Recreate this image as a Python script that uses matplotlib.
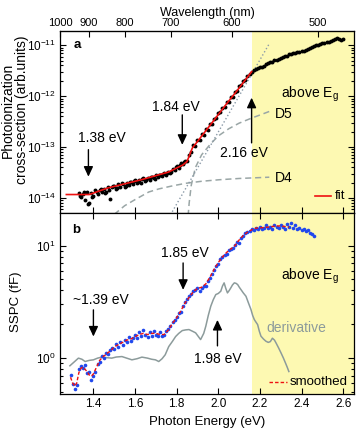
import numpy as np
import matplotlib
matplotlib.use("Agg")
import matplotlib.pyplot as plt
from matplotlib.ticker import LogLocator, NullFormatter, FixedLocator

plt.rcParams['font.family'] = ['Liberation Sans', 'DejaVu Sans']
plt.rcParams['mathtext.fontset'] = 'custom'
plt.rcParams['mathtext.rm'] = 'Liberation Sans'
plt.rcParams['mathtext.it'] = 'Liberation Sans:italic'
plt.rcParams['mathtext.bf'] = 'Liberation Sans:bold'

# ---------------- Panel a data (log10 of cross-section) ----------------
a_E_low = [1.33, 1.34, 1.35, 1.36, 1.37, 1.38, 1.39, 1.40, 1.41, 1.42, 1.43, 1.44, 1.45, 1.46,
           1.47, 1.48, 1.49, 1.50, 1.51, 1.52, 1.53, 1.54, 1.55, 1.56, 1.57, 1.58, 1.59, 1.60,
           1.61, 1.62, 1.63, 1.64, 1.65, 1.66, 1.67, 1.68, 1.69, 1.70, 1.71, 1.72, 1.73, 1.74,
           1.75, 1.76, 1.77, 1.78, 1.79, 1.80, 1.81, 1.82, 1.83, 1.84, 1.85]
a_L_low = [-13.90, -13.98, -13.91, -14.03, -13.89, -14.09, -13.90, -13.95, -13.85, -13.92, -13.84,
           -13.89, -13.82, -13.88, -13.78, -14.02, -13.79, -13.76, -13.82, -13.73, -13.79, -13.73,
           -13.78, -13.70, -13.75, -13.68, -13.72, -13.65, -13.71, -13.65, -13.70, -13.60, -13.66,
           -13.60, -13.64, -13.58, -13.61, -13.55, -13.59, -13.54, -13.57, -13.51, -13.54, -13.49,
           -13.51, -13.43, -13.45, -13.38, -13.40, -13.32, -13.34, -13.28, -13.28]
a_E_low2 = [1.335, 1.355, 1.375, 1.395, 1.415, 1.435, 1.455, 1.475, 1.495, 1.515, 1.535, 1.555,
            1.575, 1.595, 1.615, 1.635, 1.655, 1.675, 1.695, 1.715, 1.735, 1.755, 1.775, 1.795,
            1.815, 1.835]
a_L_low2 = [-13.95, -13.88, -14.12, -13.97, -13.88, -13.83, -13.90, -13.84, -13.76, -13.80, -13.71,
            -13.76, -13.69, -13.66, -13.69, -13.62, -13.64, -13.59, -13.62, -13.55, -13.53, -13.50,
            -13.48, -13.39, -13.36, -13.30]
a_E_mid = [1.86, 1.87, 1.88, 1.89, 1.90, 1.91, 1.92, 1.93, 1.94, 1.95, 1.96, 1.97, 1.98, 1.99,
           2.00, 2.01, 2.02, 2.03, 2.04, 2.05, 2.06, 2.07, 2.08, 2.09, 2.10, 2.11, 2.12, 2.13,
           2.14, 2.15]
a_L_mid = [-13.15, -13.10, -12.95, -12.97, -12.86, -12.86, -12.74, -12.76, -12.64, -12.66, -12.55,
           -12.54, -12.44, -12.43, -12.33, -12.32, -12.23, -12.22, -12.12, -12.11, -12.02, -12.01,
           -11.91, -11.90, -11.81, -11.79, -11.70, -11.69, -11.60, -11.57]
a_E_high = [2.16, 2.17, 2.18, 2.19, 2.20, 2.21, 2.22, 2.23, 2.24, 2.25, 2.26, 2.27, 2.28, 2.29,
            2.30, 2.31, 2.32, 2.33, 2.34, 2.35, 2.36, 2.37, 2.38, 2.39, 2.40, 2.41, 2.42, 2.43,
            2.44, 2.45, 2.46, 2.47, 2.48, 2.49, 2.50, 2.51, 2.52, 2.53, 2.54, 2.55, 2.56, 2.57,
            2.58, 2.59, 2.60]
a_L_high = [-11.53, -11.49, -11.46, -11.44, -11.43, -11.42, -11.40, -11.37, -11.35, -11.33, -11.32,
            -11.30, -11.29, -11.27, -11.25, -11.23, -11.22, -11.21, -11.18, -11.17, -11.16, -11.15,
            -11.13, -11.13, -11.12, -11.11, -11.10, -11.08, -11.06, -11.04, -11.02, -11.00, -10.99,
            -10.97, -10.96, -10.95, -10.94, -10.93, -10.91, -10.90, -10.88, -10.85, -10.87, -10.89,
            -10.87]

fit_E = [1.27, 1.38, 1.47, 1.63, 1.76, 1.83, 1.85, 1.875, 1.955, 2.036, 2.10, 2.16]
fit_L = [-13.93, -13.93, -13.80, -13.64, -13.49, -13.35, -13.28, -13.02, -12.60, -12.17, -11.84, -11.52]

dot_E = [1.77, 2.245]
dot_L = [-14.33, -10.97]

d5_E = [1.855, 1.86, 1.87, 1.89, 1.92, 1.96, 2.00, 2.05, 2.10, 2.16, 2.20, 2.245]
d5_L = [-14.35, -14.10, -13.75, -13.40, -13.15, -12.95, -12.78, -12.64, -12.53, -12.43, -12.37, -12.30]

d4_E = [1.50, 1.55, 1.60, 1.666, 1.714, 1.78, 1.843, 1.92, 2.004, 2.10, 2.245]
d4_L = [-14.32, -14.15, -14.03, -13.88, -13.82, -13.76, -13.71, -13.67, -13.64, -13.615, -13.59]

# ---------------- Panel b data (log10 SSPC) ----------------
b_E = [1.29, 1.30, 1.31, 1.32, 1.33, 1.34, 1.35, 1.36, 1.37, 1.38, 1.39, 1.40, 1.41, 1.42, 1.43,
       1.44, 1.45, 1.46, 1.47, 1.48, 1.49, 1.50, 1.51, 1.52, 1.53, 1.54, 1.55, 1.56, 1.57, 1.58,
       1.59, 1.60, 1.61, 1.62, 1.63, 1.64, 1.65, 1.66, 1.67, 1.68, 1.69, 1.70, 1.71, 1.72, 1.73,
       1.74, 1.75, 1.76, 1.77, 1.78, 1.79, 1.80, 1.81, 1.82, 1.83, 1.84, 1.85, 1.86, 1.87, 1.88,
       1.89, 1.90, 1.91, 1.92, 1.93, 1.94, 1.95, 1.96, 1.97, 1.98, 1.99, 2.00, 2.01, 2.02, 2.03,
       2.04, 2.05, 2.06, 2.07, 2.08, 2.09, 2.10, 2.11, 2.12, 2.13, 2.14, 2.15, 2.16, 2.17, 2.18,
       2.19, 2.20, 2.21, 2.22, 2.23, 2.24, 2.25, 2.26, 2.27, 2.28, 2.29, 2.30, 2.31, 2.32, 2.33,
       2.34, 2.35, 2.36, 2.37, 2.38, 2.39, 2.40, 2.41, 2.42, 2.43, 2.44, 2.45, 2.46]
b_L = [-0.15, -0.23, -0.27, -0.24, -0.10, -0.07, -0.09, -0.06, -0.13, -0.12, -0.19, -0.16, -0.12,
       -0.05, -0.03, 0.02, 0.00, 0.05, 0.04, 0.07, 0.09, 0.08, 0.13, 0.10, 0.14, 0.12, 0.16, 0.14,
       0.19, 0.15, 0.18, 0.21, 0.18, 0.23, 0.20, 0.25, 0.21, 0.19, 0.23, 0.20, 0.24, 0.21, 0.20,
       0.23, 0.20, 0.21, 0.24, 0.26, 0.29, 0.32, 0.34, 0.37, 0.40, 0.41, 0.46, 0.50, 0.53, 0.55,
       0.57, 0.60, 0.61, 0.62, 0.60, 0.62, 0.64, 0.64, 0.69, 0.71, 0.75, 0.78, 0.82, 0.84, 0.88,
       0.90, 0.92, 0.93, 0.96, 0.97, 0.98, 1.01, 1.03, 1.02, 1.07, 1.09, 1.11, 1.12, 1.13, 1.15,
       1.14, 1.16, 1.15, 1.17, 1.15, 1.16, 1.18, 1.16, 1.17, 1.15, 1.18, 1.17, 1.16, 1.18, 1.17,
       1.15, 1.19, 1.17, 1.20, 1.16, 1.18, 1.15, 1.16, 1.14, 1.15, 1.13, 1.14, 1.11, 1.10, 1.09]

sm_E = [1.29, 1.30, 1.31, 1.32, 1.33, 1.34, 1.35, 1.36, 1.37, 1.38, 1.39, 1.40, 1.41, 1.42, 1.43,
        1.44, 1.45, 1.46, 1.47, 1.48, 1.49, 1.50, 1.52, 1.54, 1.56, 1.58, 1.60, 1.62, 1.64, 1.66,
        1.68, 1.70, 1.72, 1.74, 1.76, 1.78, 1.80, 1.82, 1.84, 1.86, 1.88, 1.90, 1.92, 1.94, 1.96,
        1.98, 2.00, 2.02, 2.04, 2.06, 2.08, 2.10, 2.12, 2.14, 2.16, 2.18, 2.20, 2.22, 2.24, 2.26,
        2.28, 2.30, 2.32, 2.34]
sm_L = [-0.17, -0.22, -0.25, -0.22, -0.13, -0.09, -0.08, -0.10, -0.12, -0.15, -0.16, -0.14, -0.10,
        -0.06, -0.02, 0.00, 0.02, 0.03, 0.05, 0.06, 0.08, 0.10, 0.12, 0.14, 0.16, 0.17, 0.19, 0.21,
        0.22, 0.21, 0.22, 0.22, 0.21, 0.21, 0.25, 0.31, 0.36, 0.42, 0.49, 0.54, 0.59, 0.62, 0.63,
        0.66, 0.72, 0.79, 0.85, 0.90, 0.94, 0.97, 1.00, 1.05, 1.09, 1.12, 1.14, 1.155, 1.16, 1.16,
        1.165, 1.17, 1.175, 1.175, 1.17, 1.165]

der_E = [1.287, 1.31, 1.328, 1.345, 1.36, 1.38, 1.40, 1.42, 1.44, 1.46, 1.488, 1.51, 1.537, 1.56,
         1.585, 1.61, 1.633, 1.66, 1.68, 1.698, 1.714, 1.73, 1.745, 1.762, 1.78, 1.795, 1.81, 1.827,
         1.843, 1.859, 1.875, 1.891, 1.915, 1.93, 1.94, 1.952, 1.964, 1.976, 1.988, 2.0, 2.012,
         2.02, 2.028, 2.036, 2.044, 2.052, 2.06, 2.068, 2.077, 2.085, 2.093, 2.101, 2.109, 2.12,
         2.133, 2.145, 2.157, 2.165, 2.173, 2.181, 2.189, 2.197, 2.205, 2.217, 2.229, 2.24, 2.25,
         2.26, 2.27, 2.278, 2.29, 2.302, 2.313, 2.323, 2.331, 2.339]
der_L = [-0.068, -0.03, 0.0, -0.01, -0.03, -0.02, -0.015, 0.0, 0.009, 0.005, 0.0, 0.01, 0.014,
         0.0, -0.015, -0.005, 0.009, 0.0, -0.01, -0.015, -0.03, -0.005, 0.03, 0.103, 0.15, 0.192,
         0.22, 0.245, 0.251, 0.254, 0.24, 0.225, 0.165, 0.22, 0.284, 0.38, 0.462, 0.52, 0.565,
         0.575, 0.595, 0.64, 0.669, 0.62, 0.58, 0.6, 0.624, 0.65, 0.669, 0.665, 0.654, 0.63, 0.609,
         0.58, 0.55, 0.49, 0.432, 0.38, 0.343, 0.32, 0.298, 0.24, 0.195, 0.17, 0.15, 0.14, 0.147,
         0.177, 0.16, 0.133, 0.09, 0.044, 0.0, -0.044, -0.08, -0.119]

Eg = 2.16
XLIM = (1.2395, 2.652)
nm_ticks = [1000, 900, 800, 700, 600, 500]
E_ticks = [1.4, 1.6, 1.8, 2.0, 2.2, 2.4, 2.6]
E_ticklabels = ['1.4', '1.6', '1.8', '2.0', '2.2', '2.4', '2.6']

# ---------------- Figure ----------------
W, H = 356, 430
fig = plt.figure(figsize=(W / 100, H / 100), dpi=100)
ax1 = fig.add_axes([60 / W, 1 - 213 / H, 294 / W, 182 / H])
ax2 = fig.add_axes([60 / W, 1 - 394 / H, 294 / W, 181 / H])

yellow = '#fdf9b2'
grey_dash = '#9aa6a6'
grey_der = '#8c9b9b'
dotted_c = '#8a9aa8'
blue = '#2048ee'
red = '#ee1111'

p10 = lambda v: 10 ** np.asarray(v)

for ax in (ax1, ax2):
    ax.axvspan(Eg, XLIM[1], color=yellow, lw=0, zorder=0)
    ax.set_xlim(*XLIM)
    ax.set_yscale('log')
    ax.set_xticks(E_ticks)
    ax.tick_params(which='both', direction='in', right=True, top=True, labelsize=8.5,
                   width=0.8, pad=3)
    ax.tick_params(which='major', length=4)
    ax.tick_params(which='minor', length=2.2)
    for s in ax.spines.values():
        s.set_linewidth(0.9)
    ax.yaxis.set_major_locator(LogLocator(base=10, numticks=10))
    ax.yaxis.set_minor_locator(LogLocator(base=10, subs=np.arange(2, 10), numticks=20))
    ax.yaxis.set_minor_formatter(NullFormatter())

# ----- panel a -----
ax1.set_ylim(5.1e-15, 1.9e-11)
ax1.tick_params(axis='x', labelbottom=False, top=False)
ax1.plot(d4_E, p10(d4_L), '--', color=grey_dash, lw=1.1, dashes=(4, 2.5), zorder=2)
ax1.plot(d5_E, p10(d5_L), '--', color=grey_dash, lw=1.1, dashes=(4, 2.5), zorder=2)
ax1.plot(dot_E, p10(dot_L), ':', color=dotted_c, lw=1.0, zorder=2)
for e, l in ((a_E_low, a_L_low), (a_E_low2, a_L_low2), (a_E_mid, a_L_mid), (a_E_high, a_L_high)):
    ax1.plot(e, p10(l), 'o', color='k', ms=2.8, mec='none', zorder=3)
ax1.plot(fit_E, p10(fit_L), '-', color=red, lw=1.2, zorder=4)

sec = ax1.secondary_xaxis('top', functions=(lambda e: 1239.84 / np.asarray(e, float),
                                             lambda l: 1239.84 / np.asarray(l, float)))
sec.set_xticks(nm_ticks)
sec.tick_params(direction='in', length=4, labelsize=8, width=0.8, pad=2)
sec.xaxis.set_minor_locator(FixedLocator([]))
sec.set_xlabel('Wavelength (nm)', fontsize=9, labelpad=1.5)

arrow = dict(arrowstyle='-|>,head_width=0.28,head_length=0.6', color='k', lw=1.0,
             shrinkA=0, shrinkB=0)
fs = 10
ax1.text(1.305, 10 ** -11.0, 'a', fontsize=9.5, fontweight='bold', va='center', ha='left')
ax1.annotate('', xy=(1.376, 10 ** -13.58), xytext=(1.376, 10 ** -13.05), arrowprops=arrow)
ax1.text(1.44, 10 ** -12.82, '1.38 eV', fontsize=fs, ha='center', va='center')
ax1.annotate('', xy=(1.827, 10 ** -12.955), xytext=(1.827, 10 ** -12.367), arrowprops=arrow)
ax1.text(1.796, 10 ** -12.204, '1.84 eV', fontsize=fs, ha='center', va='center')
ax1.annotate('', xy=(Eg, 10 ** -12.03), xytext=(Eg, 10 ** -12.916), arrowprops=arrow)
ax1.text(2.123, 10 ** -13.12, '2.16 eV', fontsize=fs, ha='center', va='center')
ax1.text(2.439, 10 ** -11.96, r'above E$_\mathregular{g}$', fontsize=fs, ha='center', va='center')
ax1.text(2.274, 10 ** -12.35, 'D5', fontsize=fs, ha='left', va='center')
ax1.text(2.274, 10 ** -13.61, 'D4', fontsize=fs, ha='left', va='center')
ax1.plot([2.463, 2.543], [10 ** -13.95, 10 ** -13.95], '-', color=red, lw=1.2)
ax1.text(2.56, 10 ** -13.95, 'fit', fontsize=9.5, ha='left', va='center')

# ----- panel b -----
ax2.set_ylim(0.48, 19.5)
ax2.plot(der_E, p10(der_L), '-', color=grey_der, lw=1.1, zorder=2)
ax2.plot(b_E, p10(b_L), 'o', color=blue, ms=2.6, mec='none', zorder=3)
ax2.plot(sm_E, p10(sm_L), '--', color=red, lw=1.0, dashes=(2.5, 1.5), zorder=4)
ax2.set_xticklabels(E_ticklabels)
ax2.set_xlabel('Photon Energy (eV)', fontsize=9.5, labelpad=4)

ax2.text(1.298, 10 ** 1.139, 'b', fontsize=9.5, fontweight='bold', va='center', ha='left')
ax2.annotate('', xy=(1.831, 10 ** 0.607), xytext=(1.831, 10 ** 0.846), arrowprops=arrow)
ax2.text(1.839, 10 ** 0.933, '1.85 eV', fontsize=fs, ha='center', va='center')
ax2.annotate('', xy=(1.40, 10 ** 0.192), xytext=(1.40, 10 ** 0.429), arrowprops=arrow)
ax2.text(1.438, 10 ** 0.518, '~1.39 eV', fontsize=fs, ha='center', va='center')
ax2.annotate('', xy=(1.996, 10 ** 0.34), xytext=(1.996, 10 ** 0.109), arrowprops=arrow)
ax2.text(1.996, 10 ** -0.009, '1.98 eV', fontsize=fs, ha='center', va='center')
ax2.text(2.439, 10 ** 0.725, r'above E$_\mathregular{g}$', fontsize=fs, ha='center', va='center')
ax2.text(2.376, 10 ** 0.266, 'derivative', fontsize=fs, ha='center', va='center', color=grey_der)
ax2.plot([2.245, 2.328], [10 ** -0.215, 10 ** -0.215], '--', color=red, lw=1.0,
         dashes=(2.5, 1.5))
ax2.text(2.342, 10 ** -0.215, 'smoothed', fontsize=9.5, ha='left', va='center')

# y labels (as real axis labels, positioned explicitly)
ax1.set_ylabel('Photoionization\ncross-section (arb.units)', fontsize=10,
               multialignment='center', linespacing=0.95)
ax1.yaxis.label.set_va('center')
ax1.yaxis.set_label_coords((15 - 60) / 294, (213 - 110) / 182)
ax2.set_ylabel('SSPC (fF)', fontsize=9.5)
ax2.yaxis.label.set_va('center')
ax2.yaxis.set_label_coords((16 - 60) / 294, (394 - 302) / 181)

fig.savefig('out.png', dpi=100)
